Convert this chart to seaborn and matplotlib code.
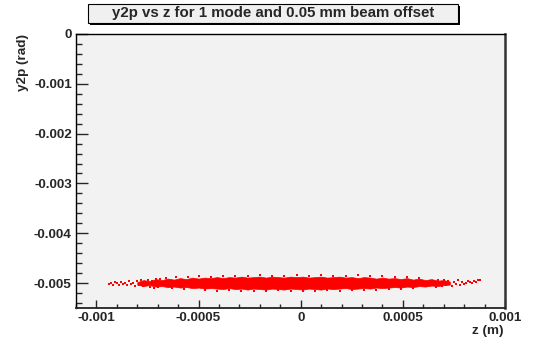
import matplotlib
matplotlib.use("Agg")
import matplotlib.pyplot as plt
import seaborn as sns
import pandas as pd
from matplotlib.patches import Rectangle
from matplotlib.ticker import MultipleLocator

# ---- data ----
title = "y2p vs z for 1 mode and 0.05 mm beam offset"
x_label = "z (m)"
y_label = "y2p (rad)"

# dense core envelope of the point cloud (ragged edges as seen)
core_z = [-0.00080, -0.00077, -0.00074, -0.00071, -0.00068, -0.00065, -0.00062, -0.00059,
          -0.00056, -0.00053, -0.00050, -0.00047, -0.00044, -0.00041, -0.00038, -0.00035,
          -0.00032, -0.00029, -0.00026, -0.00023, -0.00020, -0.00017, -0.00014, -0.00011,
          -0.00008, -0.00005, -0.00002, 0.00001, 0.00004, 0.00007, 0.00010, 0.00013,
          0.00016, 0.00019, 0.00022, 0.00025, 0.00028, 0.00031, 0.00034, 0.00037,
          0.00040, 0.00043, 0.00046, 0.00049, 0.00052, 0.00055, 0.00058, 0.00061,
          0.00064, 0.00067, 0.00070, 0.00073]
core_hi = [-0.00498, -0.00494, -0.00496, -0.00492, -0.00494, -0.00491, -0.00493, -0.00490,
           -0.00492, -0.00489, -0.00491, -0.00489, -0.00490, -0.00488, -0.00490, -0.00488,
           -0.00489, -0.00487, -0.00489, -0.00488, -0.00487, -0.00489, -0.00487, -0.00488,
           -0.00489, -0.00487, -0.00488, -0.00487, -0.00489, -0.00488, -0.00487, -0.00489,
           -0.00488, -0.00487, -0.00489, -0.00488, -0.00490, -0.00488, -0.00489, -0.00491,
           -0.00489, -0.00491, -0.00490, -0.00492, -0.00490, -0.00493, -0.00491, -0.00494,
           -0.00492, -0.00495, -0.00494, -0.00497]
core_lo = [-0.00503, -0.00506, -0.00504, -0.00507, -0.00506, -0.00508, -0.00507, -0.00509,
           -0.00508, -0.00510, -0.00509, -0.00511, -0.00510, -0.00511, -0.00512, -0.00510,
           -0.00512, -0.00511, -0.00513, -0.00511, -0.00512, -0.00513, -0.00511, -0.00512,
           -0.00513, -0.00511, -0.00512, -0.00513, -0.00511, -0.00512, -0.00513, -0.00511,
           -0.00512, -0.00511, -0.00510, -0.00512, -0.00511, -0.00510, -0.00511, -0.00509,
           -0.00510, -0.00509, -0.00508, -0.00509, -0.00507, -0.00508, -0.00506, -0.00507,
           -0.00505, -0.00506, -0.00504, -0.00503]

# sparse points in the tails and on the fringe of the cloud
left_tail_z = [-0.00094, -0.00093, -0.00092, -0.00091, -0.00090, -0.00089, -0.00088, -0.00087,
               -0.00086, -0.00085, -0.00084, -0.00083, -0.00082, -0.00081, -0.00080, -0.00079,
               -0.00078, -0.00077, -0.00076, -0.00075, -0.00074, -0.00073, -0.00072, -0.00071,
               -0.00070, -0.00069]
left_tail_y = [-0.00501, -0.00499, -0.00503, -0.00498, -0.00500, -0.00503, -0.00497, -0.00501,
               -0.00499, -0.00504, -0.00496, -0.00502, -0.00499, -0.00505, -0.00495, -0.00503,
               -0.00494, -0.00506, -0.00498, -0.00493, -0.00508, -0.00496, -0.00509, -0.00492,
               -0.00507, -0.00491]
right_tail_z = [0.00066, 0.00067, 0.00069, 0.00070, 0.00071, 0.00072, 0.00074, 0.00075,
                0.00076, 0.00077, 0.00078, 0.00079, 0.00080, 0.00081, 0.00082, 0.00083,
                0.00084, 0.00085, 0.00086, 0.00087, 0.00088]
right_tail_y = [-0.00507, -0.00494, -0.00506, -0.00493, -0.00504, -0.00496, -0.00505, -0.00497,
                -0.00502, -0.00494, -0.00503, -0.00498, -0.00501, -0.00499, -0.00496, -0.00498,
                -0.00500, -0.00495, -0.00497, -0.00494, -0.00493]
fringe_z = [-0.00066, -0.00061, -0.00055, -0.00050, -0.00044, -0.00038, -0.00032, -0.00026,
            -0.00020, -0.00014, -0.00008, -0.00002, 0.00004, 0.00010, 0.00016, 0.00022,
            0.00028, 0.00034, 0.00040, 0.00046, 0.00052, 0.00058,
            -0.00063, -0.00057, -0.00047, -0.00041, -0.00035, -0.00029, -0.00023, -0.00017,
            -0.00011, -0.00005, 0.00001, 0.00007, 0.00013, 0.00019, 0.00025, 0.00031,
            0.00037, 0.00043, 0.00049, 0.00055]
fringe_y = [-0.00489, -0.00487, -0.00488, -0.00486, -0.00487, -0.00485, -0.00486, -0.00485,
            -0.00484, -0.00485, -0.00486, -0.00484, -0.00485, -0.00484, -0.00486, -0.00485,
            -0.00484, -0.00486, -0.00485, -0.00487, -0.00488, -0.00489,
            -0.00510, -0.00512, -0.00513, -0.00515, -0.00514, -0.00515, -0.00516, -0.00515,
            -0.00514, -0.00516, -0.00515, -0.00516, -0.00514, -0.00515, -0.00514, -0.00513,
            -0.00514, -0.00512, -0.00511, -0.00510]

x_ticks = [-0.001, -0.0005, 0, 0.0005, 0.001]
x_tick_labels = ["-0.001", "-0.0005", "0", "0.0005", "0.001"]
y_ticks = [0, -0.001, -0.002, -0.003, -0.004, -0.005]
y_tick_labels = ["0", "-0.001", "-0.002", "-0.003", "-0.004", "-0.005"]

pts = pd.DataFrame({
    "z": left_tail_z + right_tail_z + fringe_z,
    "y": left_tail_y + right_tail_y + fringe_y,
})

# ---- drawing ----
sns.set_style("white")
plt.rcParams["font.family"] = ["Liberation Sans", "DejaVu Sans"]
plt.rcParams["font.weight"] = "bold"

W, H = 535, 344
fig = plt.figure(figsize=(W / 100, H / 100), dpi=100)
fig.patch.set_facecolor("white")
ax = fig.add_axes([76 / W, 1 - 308 / H, (505 - 76) / W, (308 - 34) / H])
ax.set_facecolor("#f2f2f2")

ax.fill_between(core_z, core_lo, core_hi, color="#ff0000", linewidth=0.5, edgecolor="#ff0000")
sns.scatterplot(data=pts, x="z", y="y", ax=ax, color="#ff0000", marker="s", s=2.5,
                linewidth=0, legend=False)

ax.set_xlim(-0.0011, 0.001)
ax.set_ylim(-0.0055, 0)
ax.set_xlabel("")
ax.set_ylabel("")
ax.set_xticks(x_ticks)
ax.set_xticklabels(x_tick_labels, fontsize=9.7, fontweight="bold")
ax.set_yticks(y_ticks)
ax.set_yticklabels(y_tick_labels, fontsize=9.7, fontweight="bold")
ax.xaxis.set_minor_locator(MultipleLocator(0.0001))
ax.yaxis.set_minor_locator(MultipleLocator(0.0002))
ax.tick_params(axis="y", which="major", direction="in", length=8.6, width=1, pad=3,
               left=True, right=False)
ax.tick_params(axis="y", which="minor", direction="in", length=4.3, width=1,
               left=True, right=False)
ax.tick_params(axis="x", which="major", direction="in", length=5.8, width=1, pad=3,
               bottom=True, top=False)
ax.tick_params(axis="x", which="minor", direction="in", length=2.9, width=1,
               bottom=True, top=False)
for side in ["left", "top"]:
    ax.spines[side].set_color("black")
    ax.spines[side].set_linewidth(1.0)
ax.spines["right"].set_color("#333333")
ax.spines["right"].set_linewidth(1.8)
ax.spines["bottom"].set_color("#222222")
ax.spines["bottom"].set_linewidth(1.3)

# axis titles
fig.text(503 / W, 1 - 331 / H, x_label, ha="right", va="center", fontsize=9.7,
         fontweight="bold")
fig.text(23 / W, 1 - 34 / H, y_label, ha="center", va="top", rotation=90, fontsize=9.7,
         fontweight="bold")

# title box with shadow
bx0, bx1, by0, by1 = 88, 458, 4, 23
fig.patches.append(Rectangle(((bx0 + 2) / W, 1 - (by1 + 2) / H), (bx1 - bx0) / W,
                             (by1 - by0) / H, transform=fig.transFigure,
                             facecolor="black", edgecolor="none"))
fig.patches.append(Rectangle((bx0 / W, 1 - by1 / H), (bx1 - bx0) / W, (by1 - by0) / H,
                             transform=fig.transFigure, facecolor="#f0f0f0",
                             edgecolor="black", linewidth=0.8))
fig.text((bx0 + bx1) / 2 / W, 1 - (by0 + by1) / 2 / H, title, ha="center", va="center",
         fontsize=10.8, fontweight="bold")

fig.savefig("out.png", dpi=100)
